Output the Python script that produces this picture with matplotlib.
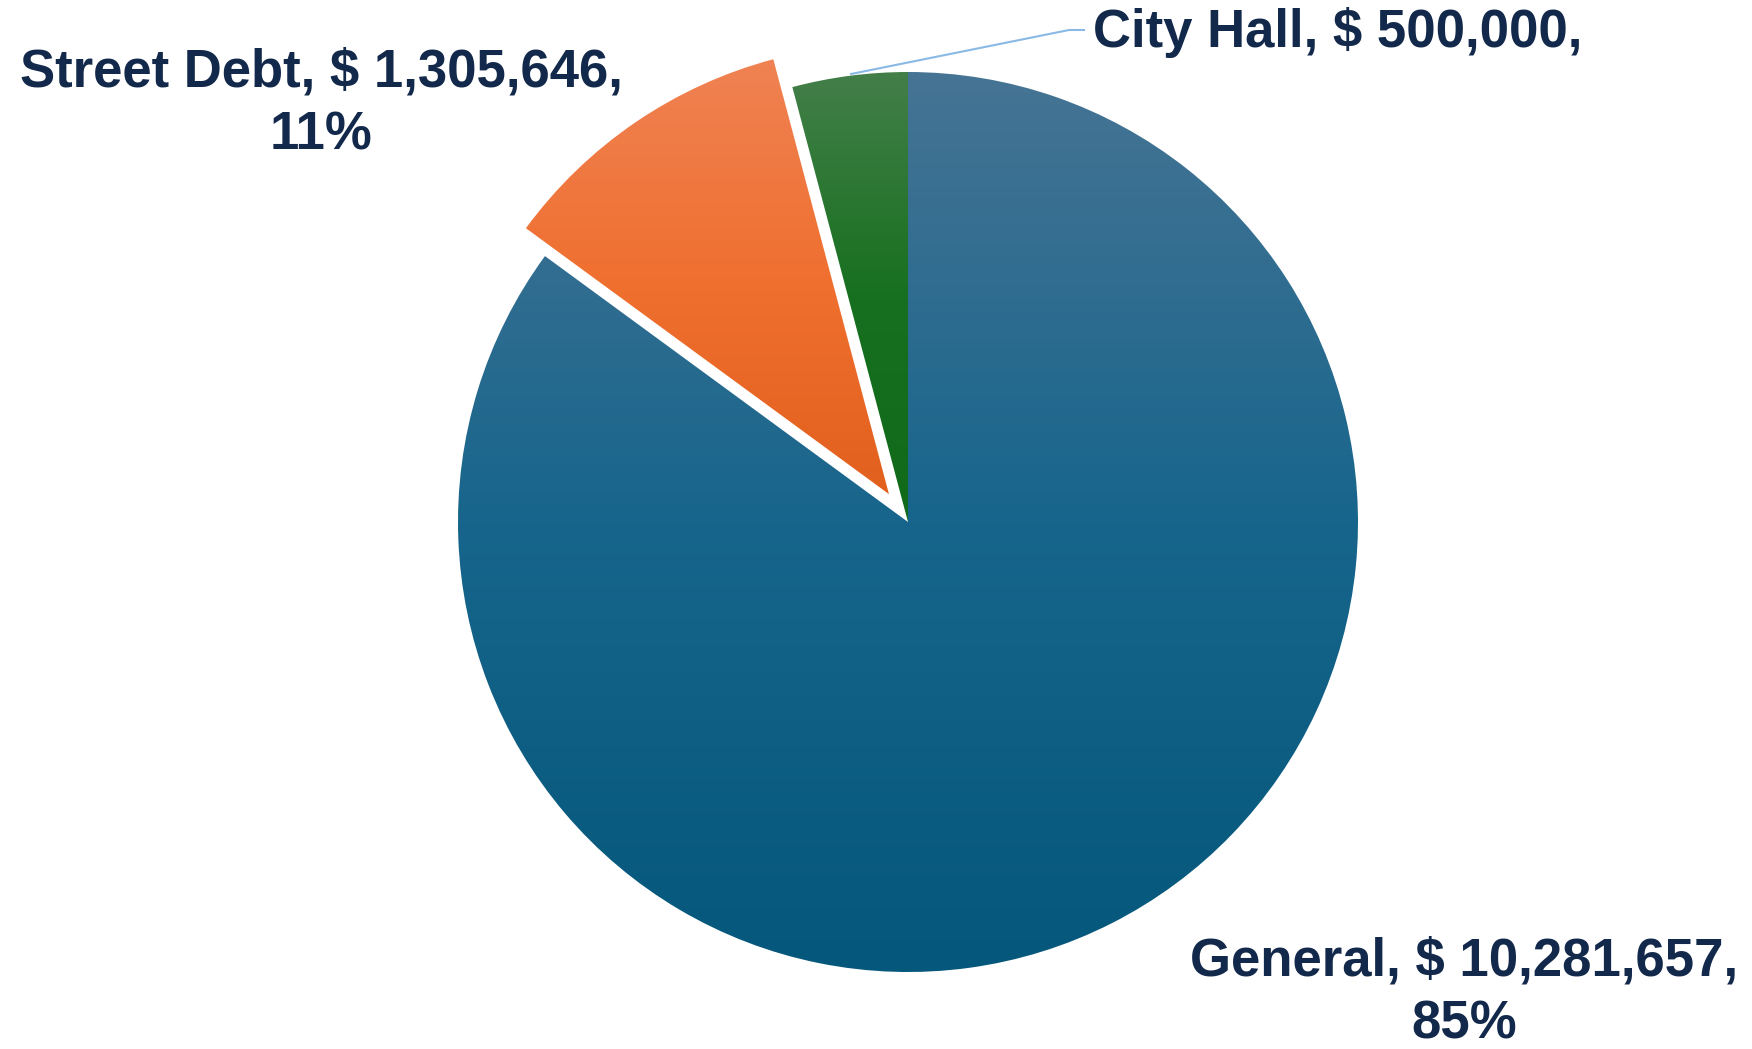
import numpy as np
import matplotlib
matplotlib.use("Agg")
import matplotlib.pyplot as plt
from matplotlib.colors import to_rgb

# data
categories = ["General", "Street Debt", "City Hall"]
amounts = [10281657, 1305646, 500000]
label_texts = [
    "General, $ 10,281,657,\n85%",
    "Street Debt, $ 1,305,646,\n11%",
    "City Hall, $ 500,000,",
]
explode = [0, 0.075, 0]

# gradient stops per slice (top, middle, bottom)
gradients = [
    ["#467494", "#17658c", "#05577b"],
    ["#ef8253", "#f07030", "#e2601d"],
    ["#437f49", "#17701f", "#116a1a"],
]
text_color = "#13294b"

plt.rcParams["font.family"] = ["Liberation Sans", "DejaVu Sans"]

W, H, DPI = 1752, 1049, 100
fig = plt.figure(figsize=(W / DPI, H / DPI), dpi=DPI)
ax = fig.add_axes([0, 0, 1, 1])
ax.axis("off")

# pie centre and radius in pixels
cx, cy, rad = 908, 522, 450


def px(x, y):
    return (x - cx) / rad, (cy - y) / rad


wedges, _ = ax.pie(amounts, explode=explode, startangle=90, counterclock=False,
                   radius=1.0, wedgeprops=dict(linewidth=0))

for wedge, stops in zip(wedges, gradients):
    ext = wedge.get_path().get_extents(wedge.get_patch_transform())
    t = np.linspace(0, 1, 256)
    cols = np.array([to_rgb(c) for c in stops])
    pos = np.linspace(0, 1, len(stops))
    rgb = np.stack([np.interp(t, pos, cols[:, k]) for k in range(3)], axis=-1)
    img = rgb[:, None, :]
    wedge.set_facecolor("none")
    im = ax.imshow(img, extent=[ext.x0, ext.x1, ext.y0, ext.y1], origin="upper",
                   aspect="auto", interpolation="bilinear", zorder=1)
    im.set_clip_path(wedge)

# labels
label_pos = [(1464, 993), (321, 104), (1338, 32)]
for txt, (lx, ly) in zip(label_texts, label_pos):
    x, y = px(lx, ly)
    ax.text(x, y, txt, ha="center", va="center", fontsize=38, fontweight="bold",
            color=text_color, linespacing=1.35, zorder=5)

# leader line for City Hall
lead = [px(851, 74), px(1069, 30), px(1084, 30)]
ax.plot([p[0] for p in lead], [p[1] for p in lead], color="#8ab9e6", lw=1.5, zorder=4)

ax.set_xlim(-cx / rad, (W - cx) / rad)
ax.set_ylim(-(H - cy) / rad, cy / rad)
ax.set_aspect("auto")

fig.savefig("out.png", dpi=DPI)
